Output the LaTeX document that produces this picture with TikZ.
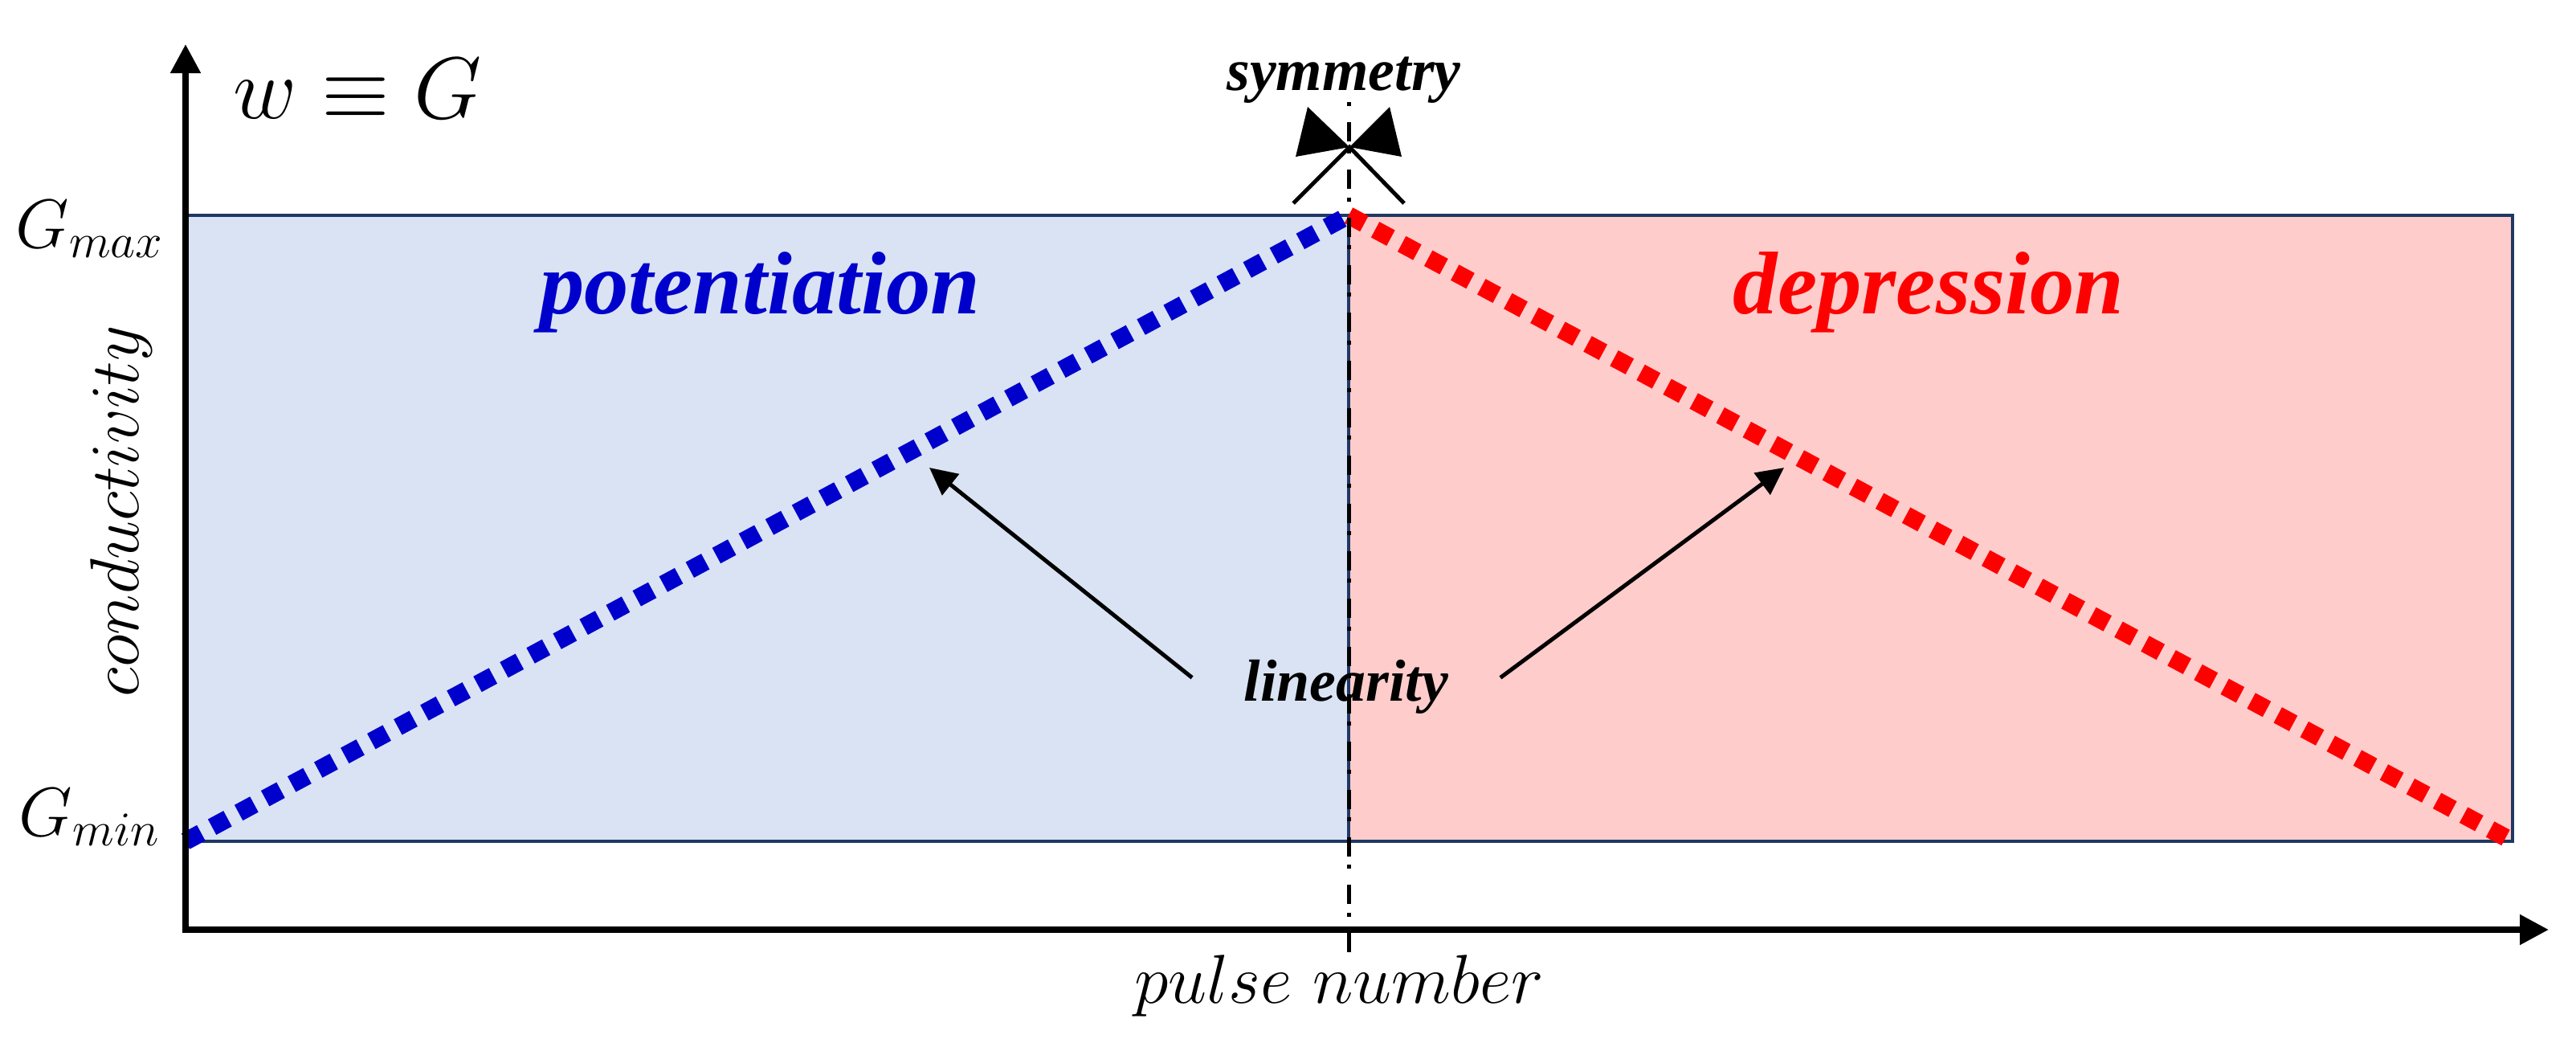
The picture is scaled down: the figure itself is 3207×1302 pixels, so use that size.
\RequirePackage{fix-cm}
\documentclass[tikz,border=0pt]{standalone}
\usepackage{fontspec}
\newfontfamily\tnr{Liberation Serif}
\usetikzlibrary{arrows.meta}
\definecolor{boxblue}{RGB}{218,227,243}
\definecolor{boxred}{RGB}{255,204,204}
\definecolor{navy}{RGB}{31,56,100}
\definecolor{dblue}{RGB}{0,0,204}
\definecolor{dred}{RGB}{255,0,0}
\begin{document}
\begin{tikzpicture}[x=0.01cm,y=-0.01cm,
  region/.style={draw=navy,line width=0.04cm},
  axisline/.style={line width=0.08cm,{Triangle[length=0.36cm,width=0.36cm]}-{Triangle[length=0.36cm,width=0.36cm]}},
  dotline/.style={line width=0.22cm,dash pattern=on 0.22cm off 0.155cm},
  symline/.style={line width=0.05cm,dash pattern=on 0.05cm off 0.2cm on 0.24cm off 0.103cm},
  linarrow/.style={line width=0.05cm,-{Triangle[length=0.34cm,width=0.33cm]}},
  bigtxt/.style={inner sep=0pt,anchor=base,font=\tnr\bfseries\itshape\fontsize{31.5}{32}\selectfont},
  smalltxt/.style={inner sep=0pt,anchor=base,font=\tnr\bfseries\itshape\fontsize{21}{22}\selectfont},
  mathtxt/.style={inner sep=0pt,font=\fontsize{24.5}{25}\selectfont},
]
\useasboundingbox (0,0) rectangle (3207,1302);
% regions
\filldraw[region,fill=boxblue] (231,268) rectangle (1679,1047);
\filldraw[region,fill=boxred] (1679,268) rectangle (3128,1047);
% dotted characteristic lines
\coordinate (pmin) at (231,1047);
\coordinate (ptop) at (1679,268);
\coordinate (dmin) at (3128,1047);
\draw[dotline,dblue] (pmin) -- (ptop);
\draw[dotline,dred] (ptop) -- (dmin);
% symmetry axis
\coordinate (st) at (1679,127);
\coordinate (sb) at (1679,1190);
\draw[symline] (st) -- (sb);
% axes
\coordinate (O) at (231,1157);
\coordinate (ytip) at (231,55);
\coordinate (xtip) at (3173,1157);
\draw[axisline] (ytip) -- (O) -- (xtip);
% symmetry bow-tie
\coordinate (bc) at (1680,183);
\fill (1628,133) -- (1613,195) -- (bc) -- cycle;
\fill (1730,133) -- (1745,195) -- (bc) -- cycle;
\draw[line width=0.05cm] (1610,253) -- (bc) -- (1748,253);
% texts
\node[mathtxt,anchor=base west,font=\fontsize{31}{32}\selectfont] (wg) at (290,147) {$w\equiv G$};
\node[mathtxt,anchor=base east] (gmax) at (205,308) {$G_{max}$};
\node[mathtxt,anchor=base east] (gmin) at (200,1040) {$G_{min}$};
\node[mathtxt,anchor=base,rotate=90] (cond) at (172,636) {$conductivity$};
\node[mathtxt,anchor=base] (pn) at (1667,1248) {$pulse\ number$};
\node[bigtxt,text=dblue] (pot) at (946,390) {potentiation};
\node[bigtxt,text=dred] (dep) at (2401,390) {depression};
\node[smalltxt] (sym) at (1673,112) {symmetry};
\node[smalltxt,inner xsep=0.64cm] (lin) at (1676,872) {linearity};
% linearity arrows
\coordinate (la) at (1157,582);
\coordinate (lb) at (2221,582);
\draw[linarrow] ([yshift=0.11cm]lin.west) -- (la);
\draw[linarrow] ([yshift=0.11cm]lin.east) -- (lb);
\end{tikzpicture}
\end{document}
